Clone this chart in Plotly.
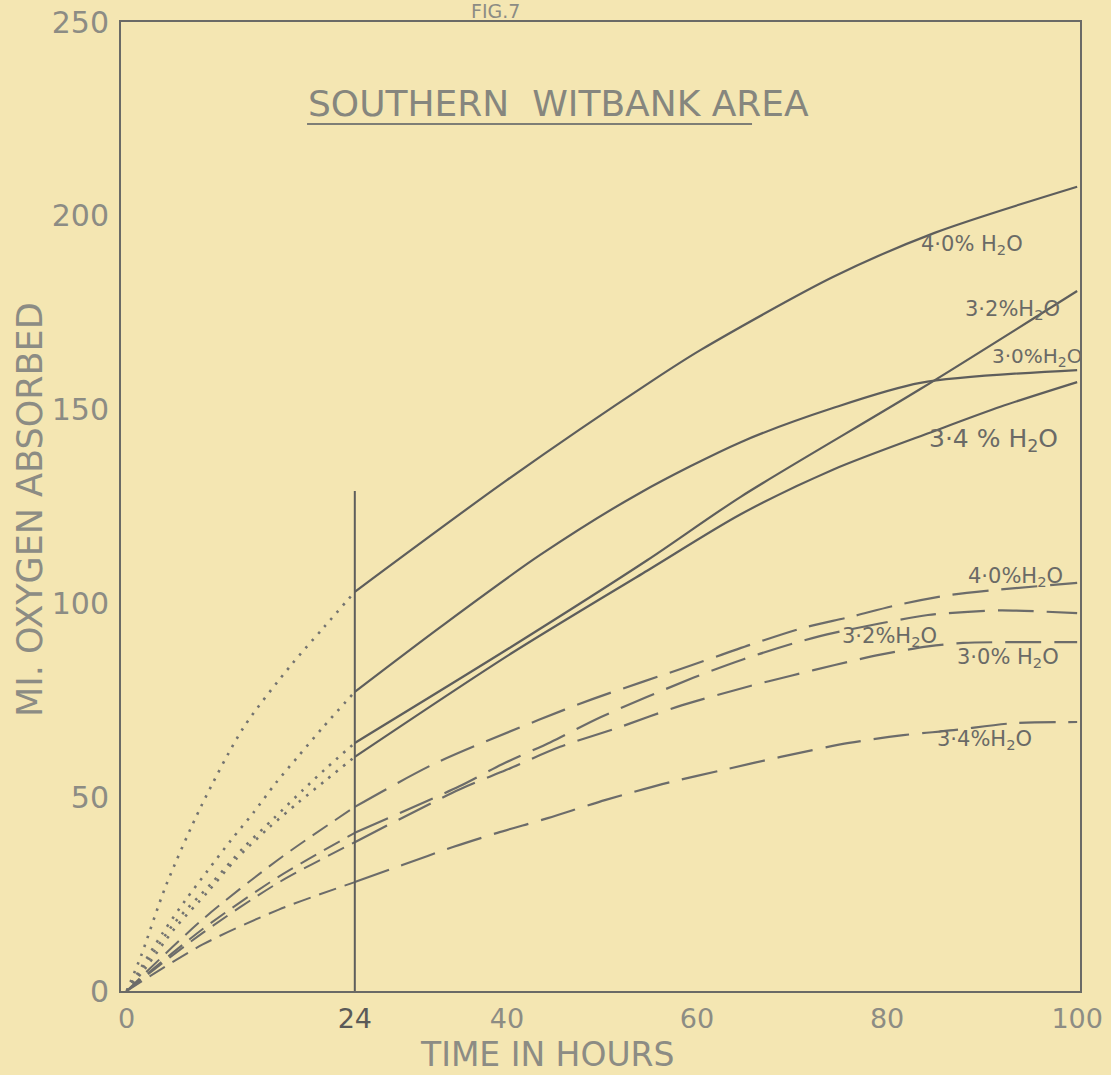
import plotly.graph_objects as go

# ---- data -------------------------------------------------------------
# moisture content of each coal sample (label text)
labels = ["4·0", "3·2", "3·0", "3·4"]

# Solid curves: oxygen absorbed after the first 24 hours
solid_x_40 = [24, 40, 55.4, 60.4, 74.3, 85, 100]
solid_y_40 = [103, 131.8, 157.6, 165.4, 184.2, 195.6, 207.5]
solid_x_32 = [24, 40.4, 54.8, 64.6, 83.5, 100]
solid_y_32 = [64.0, 88.7, 111.2, 127.5, 155.3, 180.6]
solid_x_30 = [24, 33, 43.5, 54, 64.6, 74.3, 83.5, 100]
solid_y_30 = [77.2, 93.9, 112.5, 128.5, 141.6, 150.4, 156.9, 160.2]
solid_x_34 = [24, 40.4, 54.8, 64.6, 74.3, 85, 92, 100]
solid_y_34 = [60.4, 87.0, 108.5, 123.0, 134.5, 144.5, 150.8, 157.1]

# Dotted curves: first 24 hours leading into the solid curves
dot_x_40 = [0, 1.5, 4.1, 7.8, 12.3, 17.3, 20.7, 24]
dot_y_40 = [0, 9, 27, 47.5, 68.0, 84.1, 93.7, 103]
dot_x_32 = [0, 2, 5, 9, 12.3, 15.5, 18.6, 21, 24]
dot_y_32 = [0, 7, 17.5, 28, 37, 44.6, 52, 57.5, 64.0]
dot_x_30 = [0, 1.5, 3.8, 6.2, 8.5, 11, 13.3, 15.7, 18, 20.6, 24]
dot_y_30 = [0, 6, 15, 23.5, 31.0, 39, 45.9, 53.7, 60.4, 67.9, 77.2]
dot_x_34 = [0, 2, 5, 8.5, 11.5, 14.9, 18, 21, 24]
dot_y_34 = [0, 6, 16, 25.5, 34, 42, 48.5, 54.5, 60.4]

# Dashed curves: second test series, 0 to 100 hours
dash_x_40 = [0, 8, 16, 24, 32.5, 43.3, 49, 59.5, 65.6, 71.2, 76.1, 81.1, 86.7, 91.6, 100]
dash_y_40 = [0, 18.5, 34, 47.5, 58.8, 69.9, 75.3, 84.1, 89.3, 93.7, 96.5, 99.6, 102.2, 103.5, 105.3]
dash_x_32 = [0, 8, 16, 24, 35, 39.5, 44.6, 49.9, 59.6, 64.9, 70.6, 74.4, 84.3, 88.5, 92, 100]
dash_y_32 = [0, 16, 29.5, 40.8, 52.8, 58.5, 64.2, 70.7, 80.8, 85.6, 90, 92.4, 97, 97.8, 98.2, 97.5]
dash_x_30 = [0, 8, 16, 24, 35, 39.9, 45.6, 51.9, 57.9, 65.6, 70, 74.5, 79.3, 84.3, 88, 100]
dash_y_30 = [0, 15, 28, 38.4, 52, 57, 63.0, 68.1, 73.3, 78.7, 81.4, 84.1, 86.8, 88.9, 89.8, 90]
dash_x_34 = [0, 8, 16, 24, 29, 34.4, 39, 44.3, 50.4, 57.2, 62.7, 68.8, 76, 81.7, 87, 93.3, 100]
dash_y_34 = [0, 12, 21, 28.1, 32.5, 37.2, 40.8, 44.6, 49.3, 53.9, 57.0, 60.4, 64.0, 66.0, 67.3, 69.1, 69.4]

# 24-hour marker line
marker_hours = 24
marker_top = 129

# axis ticks
x_ticks = [0, 24, 40, 60, 80, 100]
y_ticks = [0, 50, 100, 150, 200, 250]

# ---- styles -----------------------------------------------------------
PAPER = "#f4e6b2"
INK = "#5e5e5c"
PENCIL = "#8c8c84"
FONT = "DejaVu Sans"

fig = go.Figure()


def add_line(x, y, color, width, dash):
    fig.add_trace(go.Scatter(
        x=x, y=y, mode="lines",
        line=dict(color=color, width=width, dash=dash, shape="spline", smoothing=0.8),
        hoverinfo="skip", showlegend=False,
    ))


# dotted lead-in curves
for dx, dy in [(dot_x_40, dot_y_40), (dot_x_32, dot_y_32),
               (dot_x_30, dot_y_30), (dot_x_34, dot_y_34)]:
    add_line(dx, dy, "#737370", 2.6, "2.5px,7px")

# solid curves
for sx, sy in [(solid_x_40, solid_y_40), (solid_x_32, solid_y_32),
               (solid_x_30, solid_y_30), (solid_x_34, solid_y_34)]:
    add_line(sx, sy, INK, 2.2, "solid")

# dashed curves: shorter strokes before 24 h, long strokes after
for dx, dy in [(dash_x_40, dash_y_40), (dash_x_32, dash_y_32),
               (dash_x_30, dash_y_30), (dash_x_34, dash_y_34)]:
    early = [(a, b) for a, b in zip(dx, dy) if a <= marker_hours]
    late = [(a, b) for a, b in zip(dx, dy) if a >= marker_hours]
    add_line([p[0] for p in early], [p[1] for p in early], "#6c6c6a", 2.0, "18px,9px")
    add_line([p[0] for p in late], [p[1] for p in late], "#6c6c6a", 2.2, "36px,13px")

# vertical 24-hour line
fig.add_trace(go.Scatter(
    x=[marker_hours, marker_hours], y=[0, marker_top], mode="lines",
    line=dict(color=INK, width=2), hoverinfo="skip", showlegend=False,
))

# curve labels
curve_notes = [
    ("4·0% H<sub>2</sub>O", 88.9, 192.5, 21),
    ("3·2%H<sub>2</sub>O", 93.2, 175.7, 21),
    ("3·0%H<sub>2</sub>O", 95.8, 163.6, 20),
    ("3·4 % H<sub>2</sub>O", 91.2, 142.2, 25),
    ("4·0%H<sub>2</sub>O", 93.5, 106.8, 21),
    ("3·2%H<sub>2</sub>O", 80.3, 91.3, 21),
    ("3·0% H<sub>2</sub>O", 92.7, 85.9, 21),
    ("3·4%H<sub>2</sub>O", 90.3, 64.8, 21),
]
annotations = [
    dict(text=t, x=x, y=y, xref="x", yref="y", showarrow=False,
         font=dict(family=FONT, size=s, color="#6a6a66"))
    for t, x, y, s in curve_notes
]

# headings and axis titles
annotations += [
    dict(text="FIG.7", x=0.39, y=1.0114, xref="paper", yref="paper",
         showarrow=False, yanchor="middle", borderpad=0,
         font=dict(family=FONT, size=19, color=PENCIL)),
    dict(text="SOUTHERN  WITBANK AREA", x=0.4567, y=0.9154, xref="paper", yref="paper",
         showarrow=False, yanchor="middle",
         font=dict(family=FONT, size=36, color="#86867e")),
    dict(text="MI. OXYGEN ABSORBED", x=-0.095, y=0.4964, xref="paper", yref="paper",
         showarrow=False, textangle=-90, xanchor="center", yanchor="middle",
         font=dict(family=FONT, size=35, color=PENCIL)),
    dict(text="TIME IN HOURS", x=0.444, y=-0.066, xref="paper", yref="paper",
         showarrow=False, yanchor="middle",
         font=dict(family=FONT, size=33, color=PENCIL)),
]

fig.update_layout(
    width=1111, height=1075,
    margin=dict(l=121, r=31, t=22, b=84),
    paper_bgcolor=PAPER, plot_bgcolor=PAPER,
    showlegend=False,
    annotations=annotations,
    shapes=[dict(type="line", xref="paper", yref="paper",
                 x0=0.194, x1=0.658, y0=0.8947, y1=0.8947,
                 line=dict(color="#7e7e76", width=2))],
)

fig.update_xaxes(
    range=[-0.6, 100.3], showgrid=False, zeroline=False, automargin=False,
    showline=True, mirror=True, linecolor="#6a6a66", linewidth=2,
    ticks="", tickvals=x_ticks,
    ticktext=["0", '<span style="color:#5a5a58">24</span>', "40", "60", "80", "100"],
    ticklabelstandoff=3,
    tickfont=dict(family=FONT, size=27, color=PENCIL),
)
fig.update_yaxes(
    range=[0, 250], showgrid=False, zeroline=False, automargin=False,
    showline=True, mirror=True, linecolor="#6a6a66", linewidth=2,
    ticks="", tickvals=y_ticks, ticktext=[str(v) for v in y_ticks],
    ticklabelstandoff=4,
    tickfont=dict(family=FONT, size=30, color=PENCIL),
)

fig.write_html("out.html")
